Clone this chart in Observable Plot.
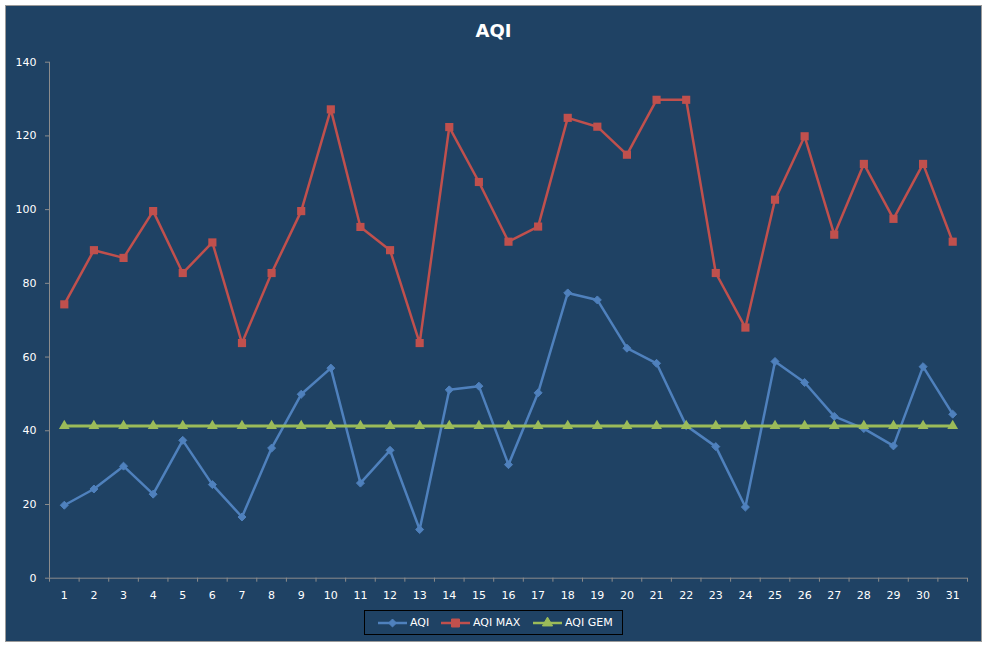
<!DOCTYPE html>
<html>
<head>
<meta charset="utf-8">
<script src="https://cdn.jsdelivr.net/npm/d3@7"></script>
<script src="https://cdn.jsdelivr.net/npm/@observablehq/plot@0.6"></script>
<style>
  html, body { margin: 0; padding: 0; background: #ffffff; width: 987px; height: 648px; overflow: hidden; }
  #frame { position: absolute; left: 5px; top: 5px; width: 977px; height: 637px; box-sizing: border-box;
           background: #1f4264; border: 1px solid #9a9a9a; }
  #title { position: absolute; left: 0; top: 19px; width: 987px; text-align: center; color: #ffffff;
           font: bold 18px "DejaVu Sans", sans-serif; line-height: 24px; padding-left: 0px; }
  #chart { position: absolute; left: 0; top: 45px; }
  #legend { position: absolute; left: 364px; top: 610px; width: 259px; height: 25px; box-sizing: border-box;
            border: 1px solid #000000; }
  .item { position: absolute; top: 0; height: 23px; display: flex; align-items: center; color: #ffffff;
          font: 11px "DejaVu Sans", sans-serif; }
  .item svg { margin-right: 3px; }
</style>
</head>
<body>
<div id="frame"></div>
<div id="title">AQI</div>
<div id="chart"></div>
<div id="legend"></div>
<script>
const days = [1,2,3,4,5,6,7,8,9,10,11,12,13,14,15,16,17,18,19,20,21,22,23,24,25,26,27,28,29,30,31];
const aqi = [19.8,24.2,30.4,22.8,37.4,25.4,16.6,35.3,49.9,57.0,25.8,34.7,13.2,51.1,52.1,30.8,50.3,77.4,75.5,62.4,58.3,41.4,35.7,19.3,58.8,53.1,43.9,40.6,35.9,57.4,44.5];
const aqiMax = [74.3,89.0,86.9,99.6,82.8,91.1,63.8,82.8,99.6,127.2,95.3,89.0,63.8,122.4,107.5,91.3,95.4,124.9,122.5,114.9,129.8,129.8,82.8,68.0,102.7,119.9,93.2,112.4,97.5,112.4,91.3];
const aqiGem = [41.3,41.3,41.3,41.3,41.3,41.3,41.3,41.3,41.3,41.3,41.3,41.3,41.3,41.3,41.3,41.3,41.3,41.3,41.3,41.3,41.3,41.3,41.3,41.3,41.3,41.3,41.3,41.3,41.3,41.3,41.3];
const yTicks = [0,20,40,60,80,100,120,140];
const xBounds = [0.5,1.5,2.5,3.5,4.5,5.5,6.5,7.5,8.5,9.5,10.5,11.5,12.5,13.5,14.5,15.5,16.5,17.5,18.5,19.5,20.5,21.5,22.5,23.5,24.5,25.5,26.5,27.5,28.5,29.5,30.5,31.5];
const seriesNames = ["AQI", "AQI MAX", "AQI GEM"];
const colors = ["#4f81bd", "#c0504d", "#9bbb59"];

const rows = (vals) => days.map((d, i) => ({day: d, v: vals[i]}));
const dAqi = rows(aqi), dMax = rows(aqiMax), dGem = rows(aqiGem);

const axisGray = "#8c8c8c";
const chart = Plot.plot({
  width: 987,
  height: 560,
  marginLeft: 49,
  marginRight: 20,
  marginTop: 16.7,
  marginBottom: 27.3,
  style: {background: "transparent", color: "#ffffff", fontFamily: "DejaVu Sans, sans-serif", fontSize: "11px"},
  x: {type: "linear", domain: [0.5, 31.5]},
  y: {domain: [0, 140]},
  marks: [
    Plot.ruleX([0.5], {stroke: axisGray, strokeWidth: 1}),
    Plot.ruleY([0], {stroke: axisGray, strokeWidth: 1}),
    Plot.axisY({ticks: yTicks, tickSize: 4, tickPadding: 9, stroke: axisGray, fill: "#ffffff", fontSize: 11, label: null}),
    Plot.axisX({ticks: xBounds, tickSize: 4, tickFormat: () => "", stroke: axisGray, label: null}),
    Plot.axisX({ticks: days, tickSize: 0, tickPadding: 13, fill: "#ffffff", fontSize: 11, tickFormat: d => String(d), label: null}),
    Plot.line(dMax, {x: "day", y: "v", stroke: colors[1], strokeWidth: 2.5}),
    Plot.dot(dMax, {x: "day", y: "v", symbol: "square", fill: colors[1], stroke: "none", r: 4.6}),
    Plot.line(dAqi, {x: "day", y: "v", stroke: colors[0], strokeWidth: 2.5}),
    Plot.dot(dAqi, {x: "day", y: "v", symbol: "diamond2", fill: colors[0], stroke: colors[0], strokeWidth: 1, r: 3.6}),
    Plot.line(dGem, {x: "day", y: "v", stroke: colors[2], strokeWidth: 3}),
    Plot.dot(dGem, {x: "day", y: "v", symbol: "triangle", fill: colors[2], stroke: "none", r: 4})
  ]
});
document.getElementById("chart").appendChild(chart);

// legend
const legend = document.getElementById("legend");
const lefts = [13, 76, 168];
const symbols = [d3.symbolDiamond2, d3.symbolSquare, d3.symbolTriangle];
const symSizes = [40, 64, 45];
seriesNames.forEach((name, i) => {
  const item = document.createElement("div");
  item.className = "item";
  item.style.left = lefts[i] + "px";
  const s = d3.create("svg").attr("width", 29).attr("height", 12);
  s.append("line").attr("x1", 0).attr("x2", 29).attr("y1", 6).attr("y2", 6)
    .attr("stroke", colors[i]).attr("stroke-width", 2.5);
  s.append("path").attr("transform", "translate(14.5,6)")
    .attr("d", d3.symbol(symbols[i], symSizes[i])()).attr("fill", colors[i]).attr("stroke", colors[i]);
  item.appendChild(s.node());
  const t = document.createElement("span");
  t.textContent = name;
  item.appendChild(t);
  legend.appendChild(item);
});
</script>
</body>
</html>
